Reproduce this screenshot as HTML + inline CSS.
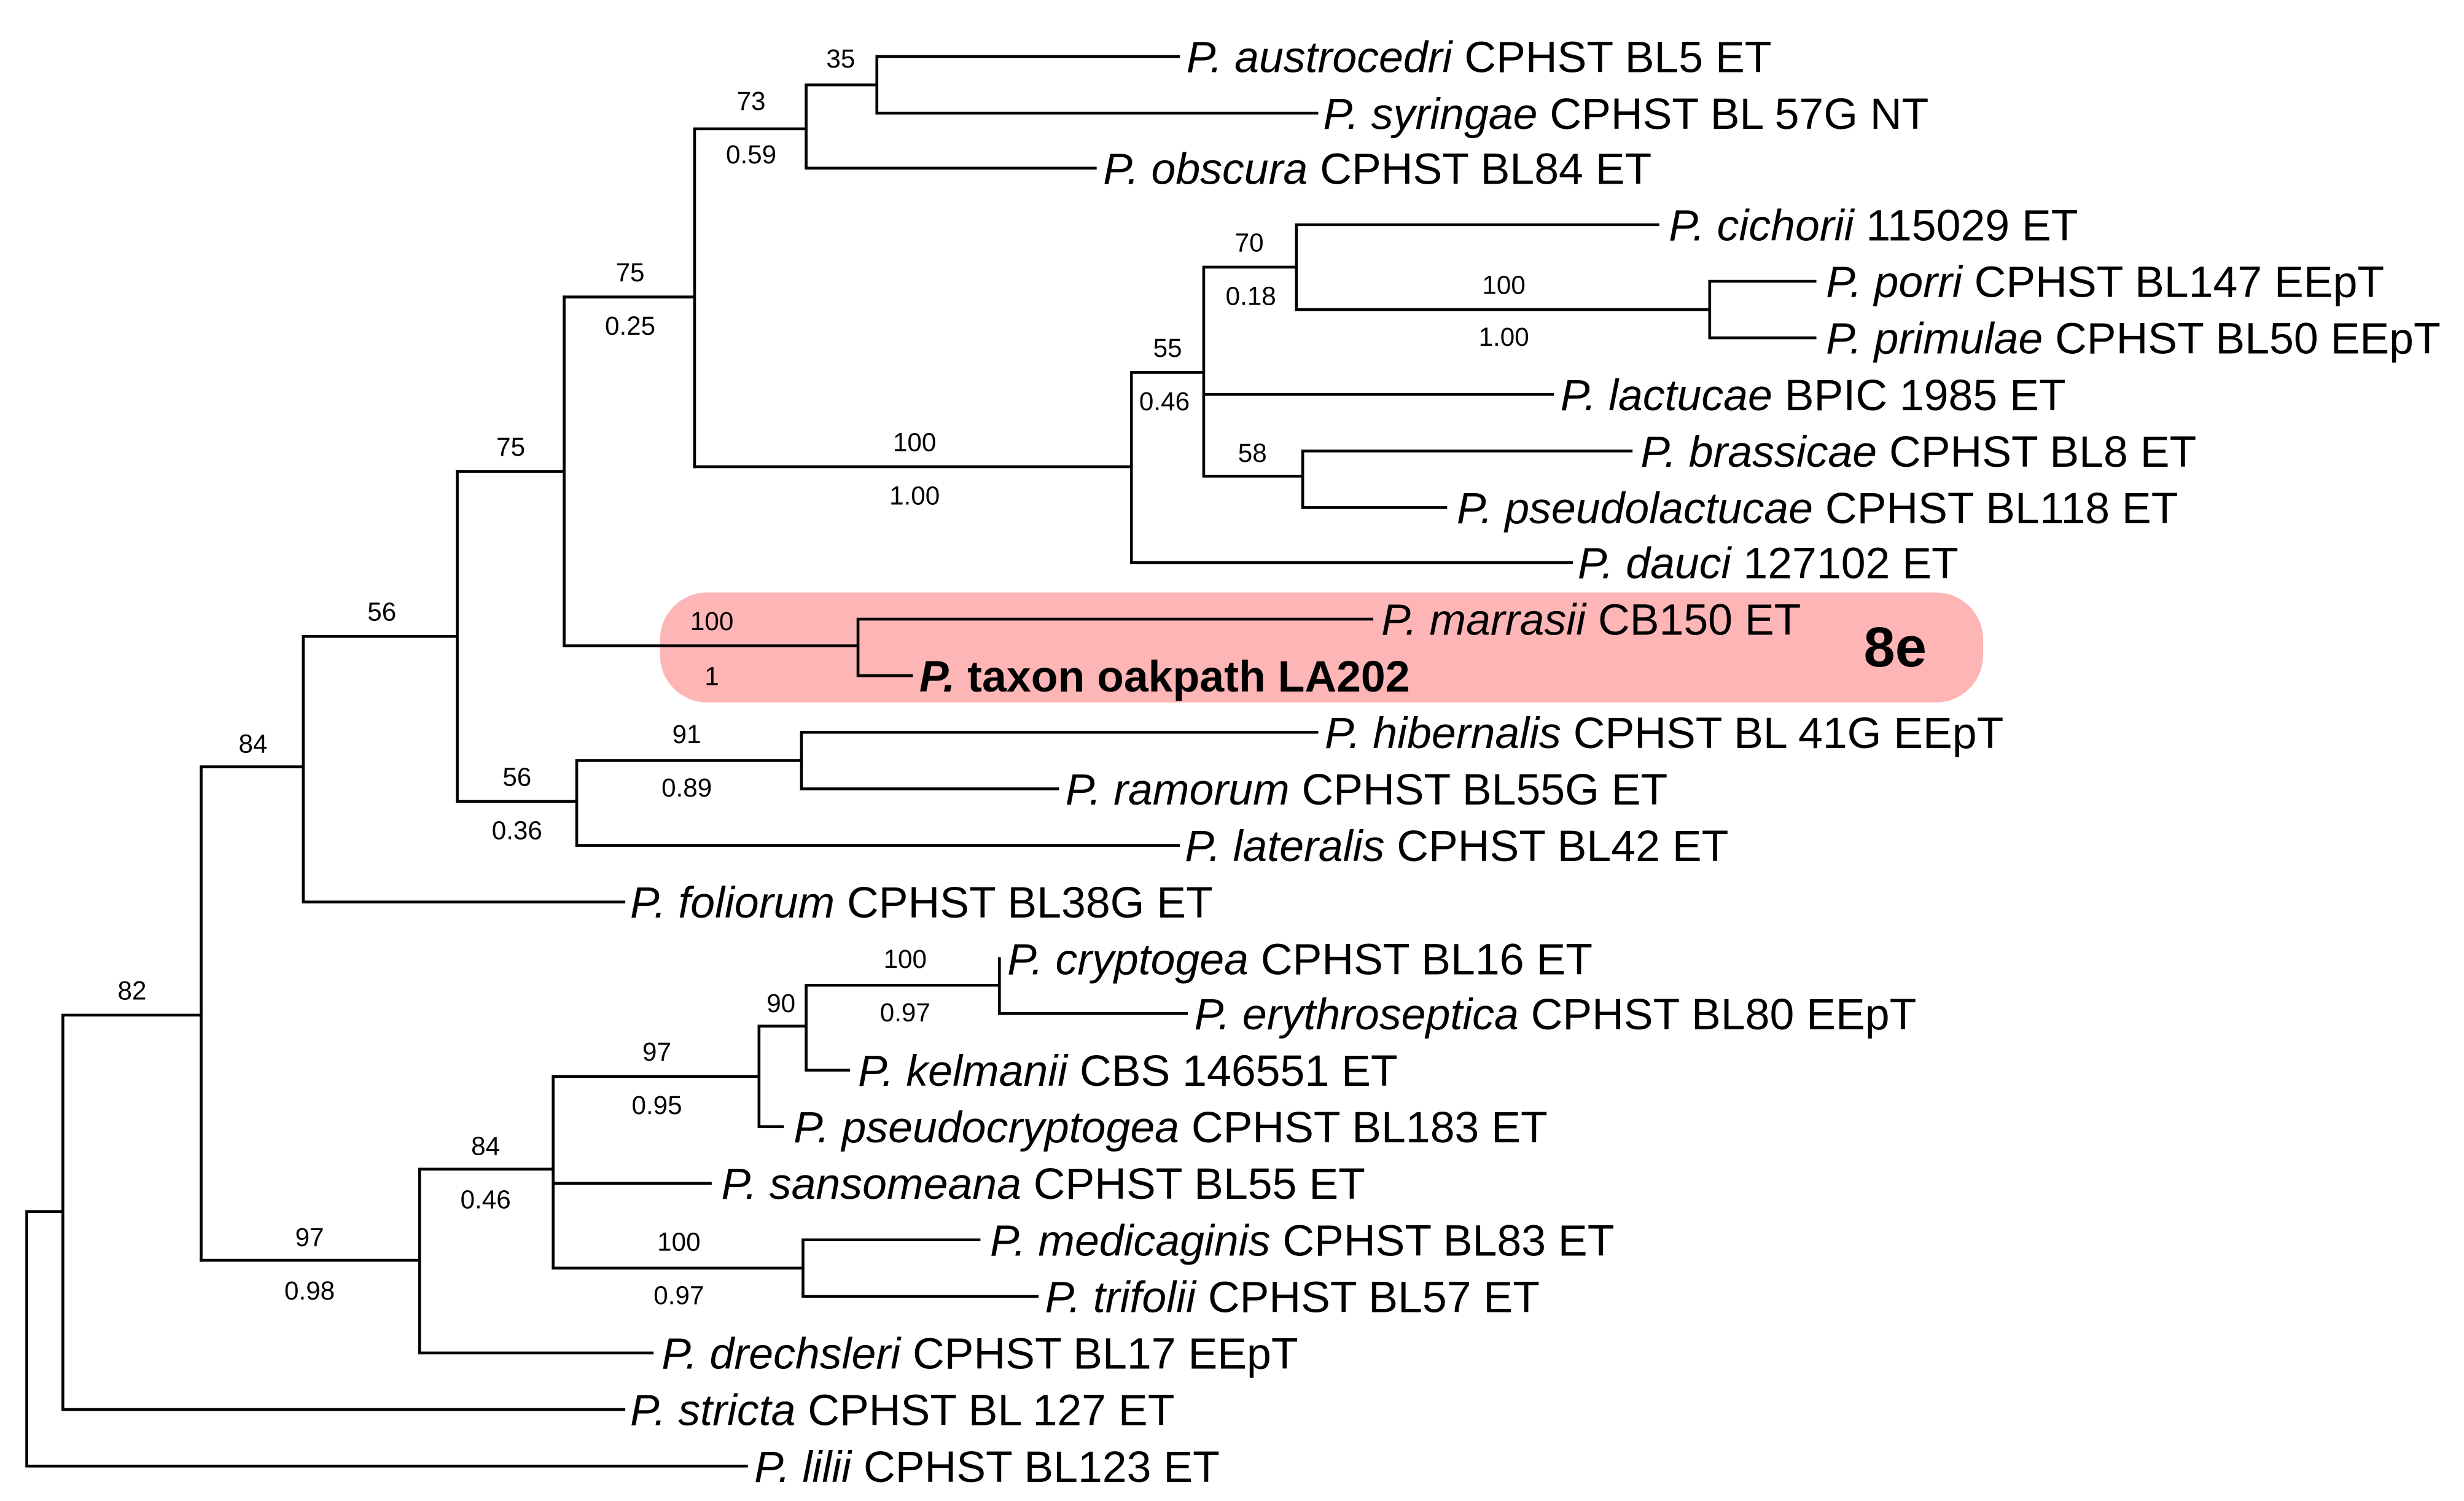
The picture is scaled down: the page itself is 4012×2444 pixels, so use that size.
<!DOCTYPE html>
<html><head><meta charset="utf-8"><style>
html,body{margin:0;padding:0;background:#fff}
svg{display:block}
.t{font-family:"Liberation Sans",Arial,sans-serif;font-size:28px;fill:#000}
.s{font-family:"Liberation Sans",Arial,sans-serif;font-size:16.5px;fill:#000;text-anchor:middle}
</style></head><body>
<svg width="4012" height="2444" viewBox="0 0 1568 955.2" xmlns="http://www.w3.org/2000/svg">
<rect x="420" y="377" width="842" height="70" rx="30" fill="#fdb5b5"/>
<g stroke="#000" stroke-width="1.8" fill="none" stroke-linecap="square">
<path d="M17 771V933H475M17 771H40M40 646V897M40 897H397M40 646H128M128 488V802M128 488H193M193 405V574M193 574H397M193 405H291M291 300V510M291 510H367M367 484V538M367 538H750M367 484H510M510 466V502M510 466H838M510 502H673"/>
<path d="M291 300H359M359 189V411M359 411H546M546 394V430M546 394H873M546 430H580"/>
<path d="M359 189H442M442 82V297M442 82H513M513 54V107M513 107H697M513 54H558M558 36V72M558 36H750M558 72H838"/>
<path d="M442 297H720M720 237V358M720 358H1000M720 237H766M766 170V303M766 251H988M766 170H825M825 143V197M825 143H1055M825 197H1088M1088 179V215M1088 179H1155M1088 215H1155M766 303H829M829 287V323M829 287H1038M829 323H920"/>
<path d="M128 802H267M267 744V861M267 861H415M267 744H352M352 685V807M352 753H452M352 685H483M483 653V717M483 717H498M483 653H513M513 627V681M513 681H540M513 627H636M636 610V645M636 645H755M352 807H511M511 789V825M511 789H623M511 825H660"/>
</g>
<g class="t">
<text x="755" y="46"><tspan font-style="italic">P. austrocedri</tspan> CPHST BL5 ET</text>
<text x="842" y="82"><tspan font-style="italic">P. syringae</tspan> CPHST BL 57G NT</text>
<text x="702" y="117"><tspan font-style="italic">P. obscura</tspan> CPHST BL84 ET</text>
<text x="1062" y="153"><tspan font-style="italic">P. cichorii</tspan> 115029 ET</text>
<text x="1162" y="189"><tspan font-style="italic">P. porri</tspan> CPHST BL147 EEpT</text>
<text x="1162" y="225"><tspan font-style="italic">P. primulae</tspan> CPHST BL50 EEpT</text>
<text x="993" y="261"><tspan font-style="italic">P. lactucae</tspan> BPIC 1985 ET</text>
<text x="1044" y="297"><tspan font-style="italic">P. brassicae</tspan> CPHST BL8 ET</text>
<text x="927" y="333"><tspan font-style="italic">P. pseudolactucae</tspan> CPHST BL118 ET</text>
<text x="1004" y="368"><tspan font-style="italic">P. dauci</tspan> 127102 ET</text>
<text x="879" y="404"><tspan font-style="italic">P. marrasii</tspan> CB150 ET</text>
<text x="585" y="440" font-weight="bold"><tspan font-style="italic">P.</tspan> taxon oakpath LA202</text>
<text x="843" y="476"><tspan font-style="italic">P. hibernalis</tspan> CPHST BL 41G EEpT</text>
<text x="678" y="512"><tspan font-style="italic">P. ramorum</tspan> CPHST BL55G ET</text>
<text x="754" y="548"><tspan font-style="italic">P. lateralis</tspan> CPHST BL42 ET</text>
<text x="401" y="584"><tspan font-style="italic">P. foliorum</tspan> CPHST BL38G ET</text>
<text x="641" y="620"><tspan font-style="italic">P. cryptogea</tspan> CPHST BL16 ET</text>
<text x="760" y="655"><tspan font-style="italic">P. erythroseptica</tspan> CPHST BL80 EEpT</text>
<text x="546" y="691"><tspan font-style="italic">P. kelmanii</tspan> CBS 146551 ET</text>
<text x="505" y="727"><tspan font-style="italic">P. pseudocryptogea</tspan> CPHST BL183 ET</text>
<text x="459" y="763"><tspan font-style="italic">P. sansomeana</tspan> CPHST BL55 ET</text>
<text x="630" y="799"><tspan font-style="italic">P. medicaginis</tspan> CPHST BL83 ET</text>
<text x="665" y="835"><tspan font-style="italic">P. trifolii</tspan> CPHST BL57 ET</text>
<text x="421" y="871"><tspan font-style="italic">P. drechsleri</tspan> CPHST BL17 EEpT</text>
<text x="401" y="907"><tspan font-style="italic">P. stricta</tspan> CPHST BL 127 ET</text>
<text x="480" y="943"><tspan font-style="italic">P. lilii</tspan> CPHST BL123 ET</text>
</g>
<text x="1206" y="424" font-family="Liberation Sans,Arial,sans-serif" font-size="36" font-weight="bold" text-anchor="middle">8e</text>
<g class="s">
<text x="535" y="43">35</text>
<text x="478" y="70">73</text><text x="478" y="104">0.59</text>
<text x="401" y="179">75</text><text x="401" y="213">0.25</text>
<text x="325" y="290">75</text>
<text x="243" y="395">56</text>
<text x="161" y="479">84</text>
<text x="84" y="636">82</text>
<text x="582" y="287">100</text><text x="582" y="321">1.00</text>
<text x="743" y="227">55</text><text x="741" y="261">0.46</text>
<text x="795" y="160">70</text><text x="796" y="194">0.18</text>
<text x="957" y="187">100</text><text x="957" y="220">1.00</text>
<text x="797" y="294">58</text>
<text x="453" y="401">100</text><text x="453" y="436">1</text>
<text x="437" y="473">91</text><text x="437" y="507">0.89</text>
<text x="329" y="500">56</text><text x="329" y="534">0.36</text>
<text x="576" y="616">100</text><text x="576" y="650">0.97</text>
<text x="497" y="644">90</text>
<text x="418" y="675">97</text><text x="418" y="709">0.95</text>
<text x="309" y="735">84</text><text x="309" y="769">0.46</text>
<text x="432" y="796">100</text><text x="432" y="830">0.97</text>
<text x="197" y="793">97</text><text x="197" y="827">0.98</text>
</g>
</svg>
</body></html>
